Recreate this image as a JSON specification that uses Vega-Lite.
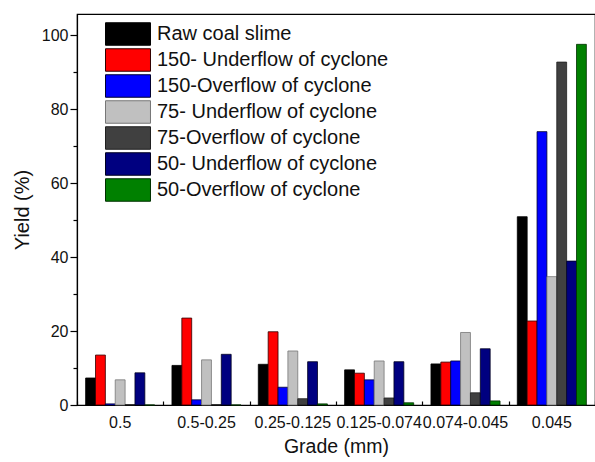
{
  "$schema": "https://vega.github.io/schema/vega-lite/v6.json",
  "width": 518,
  "height": 391,
  "autosize": {"type": "none"},
  "padding": {"left": 77, "top": 14, "right": 0, "bottom": 57},
  "background": "white",
  "config": {
    "view": {"stroke": "black", "strokeWidth": 1.2},
    "font": "Liberation Sans",
    "axis": {"labelColor": "#111", "titleColor": "#111", "domainColor": "black", "tickColor": "black", "labelFont": "Liberation Sans", "titleFont": "Liberation Sans", "zindex": 1}
  },
  "data": {
    "values": [
      {"grade": "0.5", "series": "Raw coal slime", "value": 7.3},
      {"grade": "0.5", "series": "150- Underflow of cyclone", "value": 13.5},
      {"grade": "0.5", "series": "150-Overflow of cyclone", "value": 0.3},
      {"grade": "0.5", "series": "75- Underflow of cyclone", "value": 6.8},
      {"grade": "0.5", "series": "75-Overflow of cyclone", "value": 0.1},
      {"grade": "0.5", "series": "50- Underflow of cyclone", "value": 8.7},
      {"grade": "0.5", "series": "50-Overflow of cyclone", "value": 0},
      {"grade": "0.5-0.25", "series": "Raw coal slime", "value": 10.7},
      {"grade": "0.5-0.25", "series": "150- Underflow of cyclone", "value": 23.5},
      {"grade": "0.5-0.25", "series": "150-Overflow of cyclone", "value": 1.4},
      {"grade": "0.5-0.25", "series": "75- Underflow of cyclone", "value": 12.2},
      {"grade": "0.5-0.25", "series": "75-Overflow of cyclone", "value": 0.1},
      {"grade": "0.5-0.25", "series": "50- Underflow of cyclone", "value": 13.7},
      {"grade": "0.5-0.25", "series": "50-Overflow of cyclone", "value": 0},
      {"grade": "0.25-0.125", "series": "Raw coal slime", "value": 11.0},
      {"grade": "0.25-0.125", "series": "150- Underflow of cyclone", "value": 19.8},
      {"grade": "0.25-0.125", "series": "150-Overflow of cyclone", "value": 4.8},
      {"grade": "0.25-0.125", "series": "75- Underflow of cyclone", "value": 14.6},
      {"grade": "0.25-0.125", "series": "75-Overflow of cyclone", "value": 1.7},
      {"grade": "0.25-0.125", "series": "50- Underflow of cyclone", "value": 11.7},
      {"grade": "0.25-0.125", "series": "50-Overflow of cyclone", "value": 0.3},
      {"grade": "0.125-0.074", "series": "Raw coal slime", "value": 9.5},
      {"grade": "0.125-0.074", "series": "150- Underflow of cyclone", "value": 8.6},
      {"grade": "0.125-0.074", "series": "150-Overflow of cyclone", "value": 6.8},
      {"grade": "0.125-0.074", "series": "75- Underflow of cyclone", "value": 11.9},
      {"grade": "0.125-0.074", "series": "75-Overflow of cyclone", "value": 1.9},
      {"grade": "0.125-0.074", "series": "50- Underflow of cyclone", "value": 11.7},
      {"grade": "0.125-0.074", "series": "50-Overflow of cyclone", "value": 0.6},
      {"grade": "0.074-0.045", "series": "Raw coal slime", "value": 11.1},
      {"grade": "0.074-0.045", "series": "150- Underflow of cyclone", "value": 11.6},
      {"grade": "0.074-0.045", "series": "150-Overflow of cyclone", "value": 11.9},
      {"grade": "0.074-0.045", "series": "75- Underflow of cyclone", "value": 19.6},
      {"grade": "0.074-0.045", "series": "75-Overflow of cyclone", "value": 3.3},
      {"grade": "0.074-0.045", "series": "50- Underflow of cyclone", "value": 15.2},
      {"grade": "0.074-0.045", "series": "50-Overflow of cyclone", "value": 1.1},
      {"grade": "0.045", "series": "Raw coal slime", "value": 50.9},
      {"grade": "0.045", "series": "150- Underflow of cyclone", "value": 22.7},
      {"grade": "0.045", "series": "150-Overflow of cyclone", "value": 73.9},
      {"grade": "0.045", "series": "75- Underflow of cyclone", "value": 34.7},
      {"grade": "0.045", "series": "75-Overflow of cyclone", "value": 92.7},
      {"grade": "0.045", "series": "50- Underflow of cyclone", "value": 38.9},
      {"grade": "0.045", "series": "50-Overflow of cyclone", "value": 97.5}
    ]
  },
  "layer": [
    {
      "mark": {"type": "bar", "strokeWidth": 0.8},
      "encoding": {
        "x": {
          "field": "grade", "type": "nominal",
          "sort": ["0.5", "0.5-0.25", "0.25-0.125", "0.125-0.074", "0.074-0.045", "0.045"],
          "scale": {"paddingInner": 0, "paddingOuter": 0},
          "axis": {"orient": "bottom", "title": "Grade (mm)", "labelAngle": 0, "tickSize": -7, "tickWidth": 1.2, "domainWidth": 1.2, "labelFontSize": 16, "labelPadding": 16, "titleFontSize": 19.5, "titleFontWeight": "normal", "titlePadding": 7, "labelFlush": false, "labelOverlap": false}
        },
        "xOffset": {
          "field": "series", "type": "nominal",
          "sort": ["Raw coal slime", "150- Underflow of cyclone", "150-Overflow of cyclone", "75- Underflow of cyclone", "75-Overflow of cyclone", "50- Underflow of cyclone", "50-Overflow of cyclone"],
          "scale": {"paddingOuter": 0.875, "paddingInner": 0}
        },
        "y": {
          "field": "value", "type": "quantitative",
          "scale": {"domain": [0, 105.7], "nice": false},
          "axis": {"title": "Yield (%)", "values": [0, 10, 20, 30, 40, 50, 60, 70, 80, 90, 100], "labelExpr": "datum.value % 20 === 0 ? datum.label : ''", "tickSize": {"condition": {"test": "datum.value % 20 === 0", "value": 7}, "value": 4}, "tickWidth": 1.2, "domainWidth": 1.2, "labelFontSize": 16, "labelPadding": 2, "titleFontSize": 20, "titleFontWeight": "normal", "titlePadding": 9, "grid": false}
        },
        "fill": {
          "field": "series", "type": "nominal",
          "scale": {
            "domain": ["Raw coal slime", "150- Underflow of cyclone", "150-Overflow of cyclone", "75- Underflow of cyclone", "75-Overflow of cyclone", "50- Underflow of cyclone", "50-Overflow of cyclone"],
            "range": ["#000000", "#ff0000", "#0000ff", "#c0c0c0", "#404040", "#000080", "#008000"]
          },
          "legend": {"title": null, "orient": "none", "legendX": 39, "legendY": 8, "padding": 0, "symbolType": "M-2,-1H2V1H-2Z", "symbolSize": 506, "symbolStrokeColor": "#777", "symbolStrokeWidth": 1, "symbolOpacity": 1, "labelFontSize": 20, "labelFont": "Liberation Sans", "labelColor": "#111", "labelOffset": 17, "rowPadding": -2.3, "labelLimit": 400}
        },
        "stroke": {
          "field": "series", "type": "nominal",
          "scale": {
            "domain": ["Raw coal slime", "150- Underflow of cyclone", "150-Overflow of cyclone", "75- Underflow of cyclone", "75-Overflow of cyclone", "50- Underflow of cyclone", "50-Overflow of cyclone"],
            "range": ["#000000", "#300000", "#000030", "#777777", "#202020", "#000020", "#003000"]
          },
          "legend": null
        }
      }
    },
    {
      "mark": {"type": "bar", "opacity": 0},
      "encoding": {
        "x": {
          "field": "grade", "type": "nominal",
          "sort": ["0.5", "0.5-0.25", "0.25-0.125", "0.125-0.074", "0.074-0.045", "0.045"],
          "axis": {"orient": "bottom", "title": null, "labels": false, "domain": false, "tickBand": "extent", "tickSize": -4, "tickWidth": 1.2}
        }
      }
    }
  ],
  "resolve": {"axis": {"x": "independent"}}
}
